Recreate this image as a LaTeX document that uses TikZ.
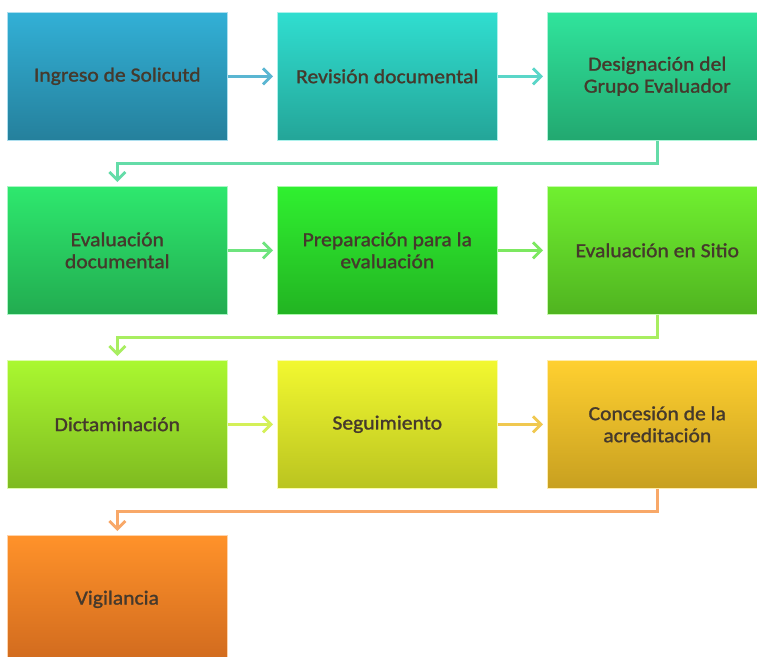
\documentclass[tikz,border=0pt]{standalone}
\usepackage{fontspec}
\setmainfont{Carlito}[FakeStretch=1.08,FakeBold=1.3]
\usetikzlibrary{arrows.meta}

% box gradients (top / bottom)
\definecolor{boxAt}{HTML}{32B0D6}\definecolor{boxAb}{HTML}{25809C}
\definecolor{boxBt}{HTML}{30DED0}\definecolor{boxBb}{HTML}{24A598}
\definecolor{boxCt}{HTML}{30E49C}\definecolor{boxCb}{HTML}{22A870}
\definecolor{boxDt}{HTML}{2EE86E}\definecolor{boxDb}{HTML}{22AC50}
\definecolor{boxEt}{HTML}{30F030}\definecolor{boxEb}{HTML}{22B422}
\definecolor{boxFt}{HTML}{70F030}\definecolor{boxFb}{HTML}{50B420}
\definecolor{boxGt}{HTML}{AAF830}\definecolor{boxGb}{HTML}{7EBA20}
\definecolor{boxHt}{HTML}{F2F830}\definecolor{boxHb}{HTML}{BAC420}
\definecolor{boxIt}{HTML}{FFD030}\definecolor{boxIb}{HTML}{C8A020}
\definecolor{boxJt}{HTML}{FF922A}\definecolor{boxJb}{HTML}{D06A1E}
% connector colours
\definecolor{arAB}{HTML}{5AB6D2}
\definecolor{arBC}{HTML}{5AD6C8}
\definecolor{arCD}{HTML}{64DCA8}
\definecolor{arDE}{HTML}{6EE47E}
\definecolor{arEF}{HTML}{7CE860}
\definecolor{arFG}{HTML}{A8EE60}
\definecolor{arGH}{HTML}{D4F058}
\definecolor{arHI}{HTML}{F0C850}
\definecolor{arIJ}{HTML}{F8A868}
\definecolor{txt}{HTML}{45392C}

\tikzset{
  stepbox/.style 2 args={minimum width=220pt, minimum height=128pt,
    inner sep=0pt, anchor=north west, draw=white!60!#1, line width=0.6pt,
    top color=#1, bottom color=#2, text=txt, align=center,
    font=\fontsize{20}{22}\selectfont},
  flow/.style={draw=#1, line width=3.6pt,
    -{Straight Barb[length=8pt,width=16pt,line width=2.8pt]}},
  elbow/.style={draw=#1, line width=2.6pt,
    -{Straight Barb[length=8pt,width=16pt,line width=2.8pt]}},
}

\begin{document}
\begin{tikzpicture}[x=1pt,y=-1pt]
\clip (0,0) rectangle (757,656);
\fill[white] (0,0) rectangle (757,656);

% row 1
\node[stepbox={boxAt}{boxAb}] (ingreso) at (7,12) {Ingreso de Solicutd};
\node[stepbox={boxBt}{boxBb}] (revision) at (277,12) {Revisión documental};
\node[stepbox={boxCt}{boxCb}] (designacion) at (547,12) {Designación del\\Grupo Evaluador};
% row 2
\node[stepbox={boxDt}{boxDb}] (evaldoc) at (7,186) {Evaluación\\documental};
\node[stepbox={boxEt}{boxEb}] (preparacion) at (277,186) {Preparación para la\\evaluación};
\node[stepbox={boxFt}{boxFb}] (sitio) at (547,186) {Evaluación en Sitio};
% row 3
\node[stepbox={boxGt}{boxGb}] (dictamen) at (7,360) {Dictaminación};
\node[stepbox={boxHt}{boxHb}] (seguimiento) at (277,360) {Seguimiento};
\node[stepbox={boxIt}{boxIb}] (concesion) at (547,360) {Concesión de la\\acreditación};
% row 4
\node[stepbox={boxJt}{boxJb}] (vigilancia) at (7,535) {Vigilancia};

% horizontal steps
\draw[flow=arAB, shorten >=4pt] (ingreso.east) -- (revision.west);
\draw[flow=arBC, shorten >=4pt] (revision.east) -- (designacion.west);
\draw[flow=arDE, shorten >=4pt] (evaldoc.east) -- (preparacion.west);
\draw[flow=arEF, shorten >=4pt] (preparacion.east) -- (sitio.west);
\draw[flow=arGH, shorten >=4pt] (dictamen.east) -- (seguimiento.west);
\draw[flow=arHI, shorten >=4pt] (seguimiento.east) -- (concesion.west);

% row changes
\draw[elbow=arCD, shorten >=4pt] (designacion.south) -- ++(0,23) -| (evaldoc.north);
\draw[elbow=arFG, shorten >=4pt] (sitio.south) -- ++(0,23) -| (dictamen.north);
\draw[elbow=arIJ, shorten >=4pt] (concesion.south) -- ++(0,23) -| (vigilancia.north);
\end{tikzpicture}
\end{document}
